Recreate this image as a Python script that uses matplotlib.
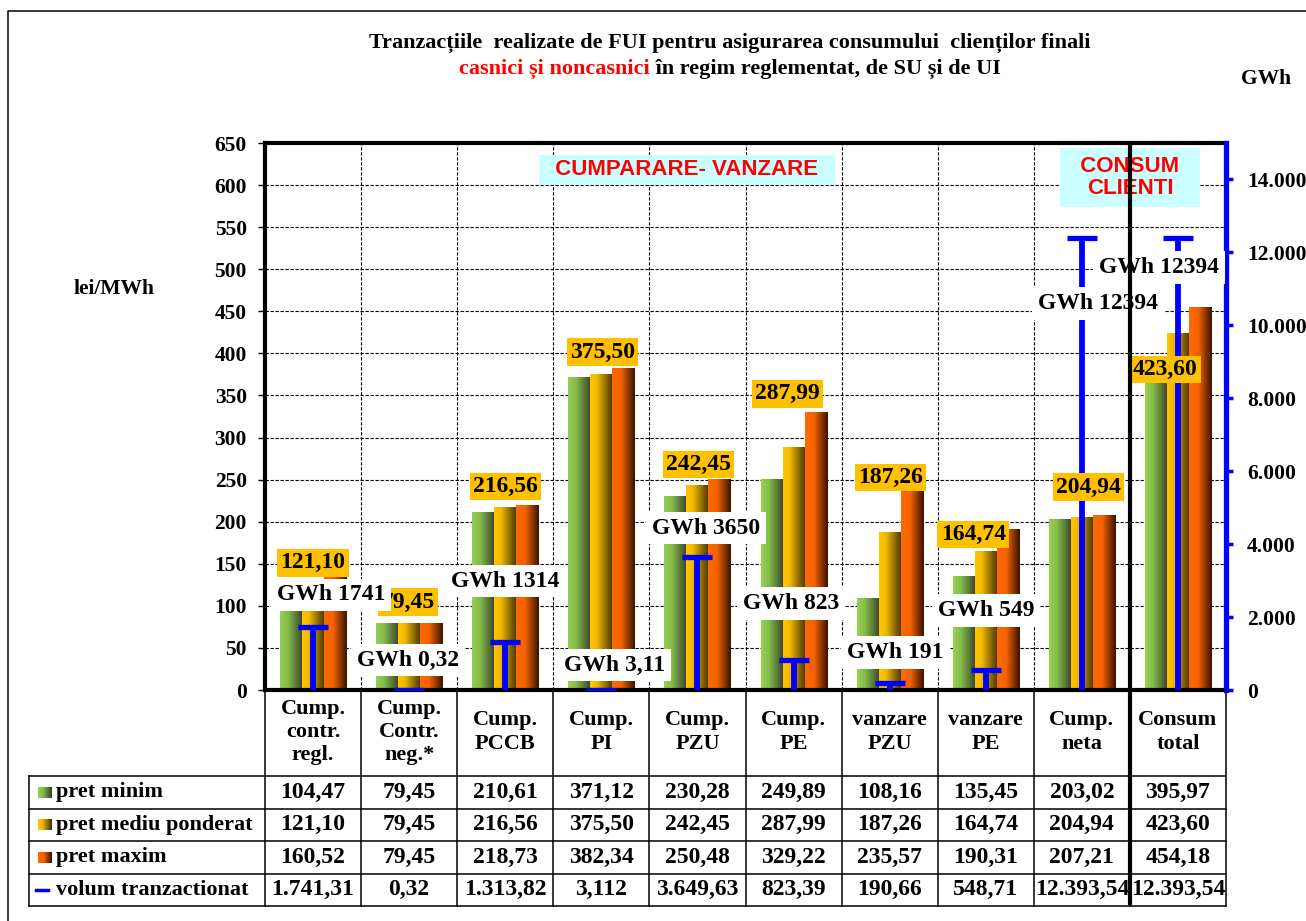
import numpy as np
import matplotlib
matplotlib.use("Agg")
import matplotlib.pyplot as plt
from matplotlib.colors import LinearSegmentedColormap
from matplotlib.lines import Line2D
from matplotlib import transforms

plt.rcParams['font.family'] = ['Liberation Serif', 'DejaVu Serif']
plt.rcParams['font.weight'] = 'bold'

# data
categories = ["Cump.\ncontr.\nregl.", "Cump.\nContr.\nneg.*", "Cump.\nPCCB", "Cump.\nPI",
              "Cump.\nPZU", "Cump.\nPE", "vanzare\nPZU", "vanzare\nPE", "Cump.\nneta",
              "Consum\ntotal"]
pret_minim = [104.47, 79.45, 210.61, 371.12, 230.28, 249.89, 108.16, 135.45, 203.02, 395.97]
pret_mediu = [121.10, 79.45, 216.56, 375.50, 242.45, 287.99, 187.26, 164.74, 204.94, 423.60]
pret_maxim = [160.52, 79.45, 218.73, 382.34, 250.48, 329.22, 235.57, 190.31, 207.21, 454.18]
volum = [1741.31, 0.32, 1313.82, 3.112, 3649.63, 823.39, 190.66, 548.71, 12393.54, 12393.54]
series_names = ["pret minim", "pret mediu ponderat", "pret maxim", "volum tranzactionat"]

# where the data labels sit (category position, lei/MWh)
avg_label_pos = [(0.0, 151), (0.99, 104.6), (2.0, 242), (3.01, 401.7), (4.01, 268),
                 (4.94, 352), (6.01, 252.5), (6.87, 184.7), (8.07, 241), (8.87, 381)]
vol_label_pos = [(0.19, 113), (0.99, 35.6), (2.0, 129.5), (3.14, 29.7), (4.09, 192.5),
                 (4.97, 103), (6.06, 45), (7.0, 94.5), (8.17, 459), (8.80, 502)]


def fmt(v, d=2):
    s = f"{v:,.{d}f}"
    return s.replace(",", "X").replace(".", ",").replace("X", ".")


def ndec(v):
    r = repr(v)
    return max(2, len(r.split(".")[1])) if "." in r else 2


W, H = 1306, 921
fig = plt.figure(figsize=(W / 100, H / 100), dpi=100)


def fx(px):
    return px / W


def fy(py):
    return 1 - py / H


ax = fig.add_axes([fx(265), fy(690), fx(1226) - fx(265), fy(143) - fy(690)])

cmaps = [
    LinearSegmentedColormap.from_list("g", [(0, "#96D056"), (0.35, "#84BC48"), (1, "#39432A")]),
    LinearSegmentedColormap.from_list("y", [(0, "#FFC400"), (0.3, "#F2B800"), (1, "#433400")]),
    LinearSegmentedColormap.from_list("o", [(0, "#FF6A00"), (0.4, "#F56200"), (1, "#3A1300")]),
]
grad = np.linspace(0, 1, 64).reshape(1, -1)

x = np.arange(len(categories))
w = 0.229
for k, vals in enumerate([pret_minim, pret_mediu, pret_maxim]):
    bars = ax.bar(x + (k - 1) * w, vals, w, color=cmaps[k](0.2), lw=0, zorder=2)
    for b in bars:
        ax.imshow(grad, extent=[b.get_x(), b.get_x() + b.get_width(), 0, b.get_height()],
                  aspect="auto", cmap=cmaps[k], interpolation="bilinear", zorder=2.1)
ax.set_xlim(-0.5, 9.5)
ax.set_ylim(0, 650)

ax.set_yticks(np.arange(0, 651, 50))
ax.set_xticks([])
ax.set_xticks(np.arange(0.5, 9, 1), minor=True)
ax.grid(True, axis="y", color="black", ls=(0, (3, 1.5)), lw=0.8)
ax.grid(True, axis="x", which="minor", color="black", ls=(0, (3, 1.5)), lw=0.8)
ax.set_axisbelow(True)
ax.tick_params(axis="x", which="both", length=0, labelbottom=False)
ax.tick_params(axis="y", direction="out", length=5, width=1, pad=8, labelsize=15.5)
for s in ["top", "bottom", "left"]:
    ax.spines[s].set_linewidth(3)
ax.spines["right"].set_visible(False)

ax2 = ax.twinx()
ax2.set_ylim(0, 15000)
ax2.set_yticks(np.arange(0, 14001, 2000))
ax2.set_yticklabels([f"{int(v):,}".replace(",", ".") for v in np.arange(0, 14001, 2000)])
ax2.tick_params(axis="y", direction="out", length=5, width=2.5, color="#0000FF", pad=10,
                labelsize=15.5)
for s in ["top", "bottom", "left"]:
    ax2.spines[s].set_visible(False)
ax2.spines["right"].set_color("#0000FF")
ax2.spines["right"].set_linewidth(3.8)

ax2.vlines(x, 0, volum, color="#0000FF", lw=4.2, zorder=3)
ax2.plot(x, volum, ls="none", marker="_", ms=21, mew=3.8, color="#0000FF", zorder=3)

# data labels
for (lx, ly), v in zip(avg_label_pos, pret_mediu):
    ax2.text(lx, ly, fmt(v), transform=ax.transData, ha="center", va="center", fontsize=17,
             bbox=dict(boxstyle="square,pad=0.14", fc="#FFC000", ec="none"), zorder=5)
for (lx, ly), v in zip(vol_label_pos, volum):
    s = "GWh " + (fmt(v) if v < 10 else str(round(v)))
    ax2.text(lx, ly, s, transform=ax.transData, ha="center", va="center", fontsize=17,
             bbox=dict(boxstyle="square,pad=0.25", fc="white", ec="none"), zorder=6)

ax2.text(3.89, 618, "  CUMPARARE- VANZARE  ", transform=ax.transData, ha="center",
         va="center", fontsize=16, color="#FF0000", family="Liberation Sans",
         bbox=dict(boxstyle="square,pad=0.2", fc="#CCFFFF", ec="none"), zorder=5)
ax2.text(8.5, 609, "  CONSUM  \nCLIENTI", transform=ax.transData, ha="center",
         va="center", fontsize=16, color="#FF0000", family="Liberation Sans",
         multialignment="center", linespacing=1.05,
         bbox=dict(boxstyle="square,pad=0.38", fc="#CCFFFF", ec="none"), zorder=5)

# titles and axis names
fig.text(fx(730), fy(43),
         "Tranzacțiile  realizate de FUI pentru asigurarea consumului  clienților finali",
         ha="center", va="center", fontsize=16)
red = fig.text(0, fy(74), "casnici și noncasnici", ha="left", va="baseline",
               fontsize=16, color="#FF0000")
blk = fig.text(0, fy(74), " în regim reglementat, de SU și de UI", ha="left",
               va="baseline", fontsize=16)
fig.canvas.draw()
wr = red.get_window_extent().width
wb = blk.get_window_extent().width
x0 = 730 - (wr + wb) / 2
red.set_x(fx(x0))
blk.set_x(fx(x0 + wr))
fig.text(fx(1266), fy(79), "GWh", ha="center", va="center", fontsize=15.5)
fig.text(fx(114), fy(289), "lei/MWh", ha="center", va="center", fontsize=15.5)

# data table under the plot
blend = transforms.blended_transform_factory(ax.transData, fig.transFigure)
row_edges = [776, 808.5, 841, 873.5, 906]
row_mid = [(a + b) / 2 for a, b in zip(row_edges[:-1], row_edges[1:])]
for ye in row_edges:
    fig.add_artist(Line2D([fx(29.5), fx(1226)], [fy(ye), fy(ye)], transform=fig.transFigure,
                          color="black", lw=1.1))
fig.add_artist(Line2D([fx(29.5), fx(29.5)], [fy(776), fy(906)], transform=fig.transFigure,
                      color="black", lw=1.1))
for xb in np.arange(-0.5, 10, 1):
    fig.add_artist(Line2D([xb, xb], [fy(690), fy(906)], transform=blend, color="black",
                          lw=1.1))
fig.add_artist(Line2D([8.5, 8.5], [fy(905), fy(143)], transform=blend, color="black", lw=3,
                      solid_capstyle="butt"))

for i, c in enumerate(categories):
    fig.text(i, fy(732), c, transform=blend, ha="center", va="center", fontsize=16,
             linespacing=1.22)
for r, vals in enumerate([pret_minim, pret_mediu, pret_maxim]):
    for i, v in enumerate(vals):
        fig.text(i, fy(row_mid[r]), fmt(v), transform=blend, ha="center", va="center",
                 fontsize=17)
for i, v in enumerate(volum):
    fig.text(i, fy(row_mid[3]), fmt(v, ndec(v)), transform=blend, ha="center",
             va="center", fontsize=17)

for r, name in enumerate(series_names):
    fig.text(fx(56), fy(row_mid[r]), name, ha="left", va="center", fontsize=16)
    if r < 3:
        icon = cmaps[r](np.tile(np.linspace(0, 1, 14), (11, 1)))
        fig.figimage(icon, xo=38, yo=int(H - row_mid[r] - 5), zorder=5)
    else:
        fig.add_artist(Line2D([fx(36), fx(48)], [fy(row_mid[r]), fy(row_mid[r])],
                              transform=fig.transFigure, color="#0000FF", lw=2.5))

# outer frame of the chart
fig.add_artist(Line2D([fx(8), fx(8), 1.0], [0.0, fy(11), fy(11)], transform=fig.transFigure,
                      color="black", lw=1.1))

fig.savefig("out.png", dpi=100)
